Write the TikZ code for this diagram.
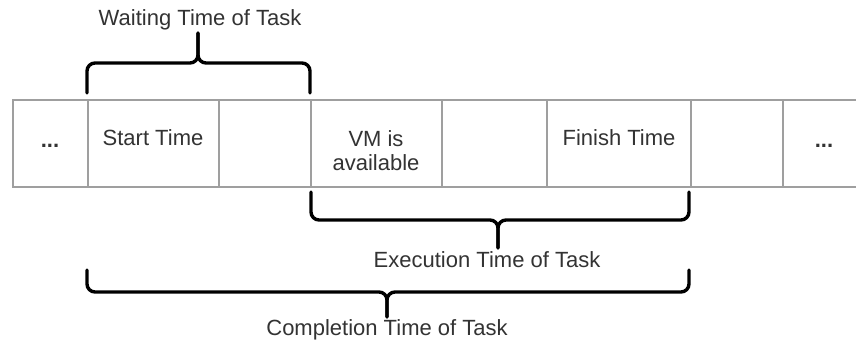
\documentclass[tikz,border=0pt]{standalone}
\usepackage{fontspec}
\setmainfont{Liberation Sans}
\begin{document}
\begin{tikzpicture}[x=1pt,y=-1pt,
  cell/.style={draw=gray!75, line width=1.3pt, rectangle, inner sep=0pt, outer sep=0pt,
               minimum height=87pt, anchor=north west},
  txt/.style={text=black!80, font=\fontsize{22}{24}\selectfont, align=center, inner sep=0pt},
  brace/.style={draw=black, line width=3.4pt, line cap=round, rounded corners=8pt}]
\useasboundingbox (0,0) rectangle (856,344);
\fill[white] (0,0) rectangle (856,344);

% row of time slots
\node[cell, minimum width=75pt]  (c1) at (13,100)  {};
\node[cell, minimum width=131pt] (c2) at (88,100)  {};
\node[cell, minimum width=92pt]  (c3) at (219,100) {};
\node[cell, minimum width=131pt] (c4) at (311,100) {};
\node[cell, minimum width=105pt] (c5) at (442,100) {};
\node[cell, minimum width=144pt] (c6) at (547,100) {};
\node[cell, minimum width=92pt]  (c7) at (691,100) {};
\node[cell, minimum width=82pt]  (c8) at (783,100) {};

% slot contents
\node[txt, font=\fontsize{22}{24}\selectfont\bfseries] (dotsL) at (50,146)  {...};
\node[txt] (start)  at (153,138) {Start Time};
\node[txt] (vm)     at (376,151) {VM is\\available};
\node[txt] (finish) at (619,138) {Finish Time};
\node[txt, font=\fontsize{22}{24}\selectfont\bfseries] (dotsR) at (824,146) {...};

% braces: each drawn as two halves meeting in the middle cusp
\newcommand{\twobrace}[6]{%
  \draw[brace] (#1,#3) -- (#1,#4) -- (#5,#4) -- (#5,#6);
  \draw[brace] (#2,#3) -- (#2,#4) -- (#5,#4) -- (#5,#6);}

\twobrace{87}{310}{93}{63}{198}{33}
\twobrace{311}{689}{192}{220}{498}{248}
\twobrace{87}{689}{270}{292}{387}{317}

% brace labels
\node[txt] (wait) at (200,20)  {Waiting Time of Task};
\node[txt] (exec) at (487,260) {Execution Time of Task};
\node[txt] (comp) at (387,330) {Completion Time of Task};
\end{tikzpicture}
\end{document}
